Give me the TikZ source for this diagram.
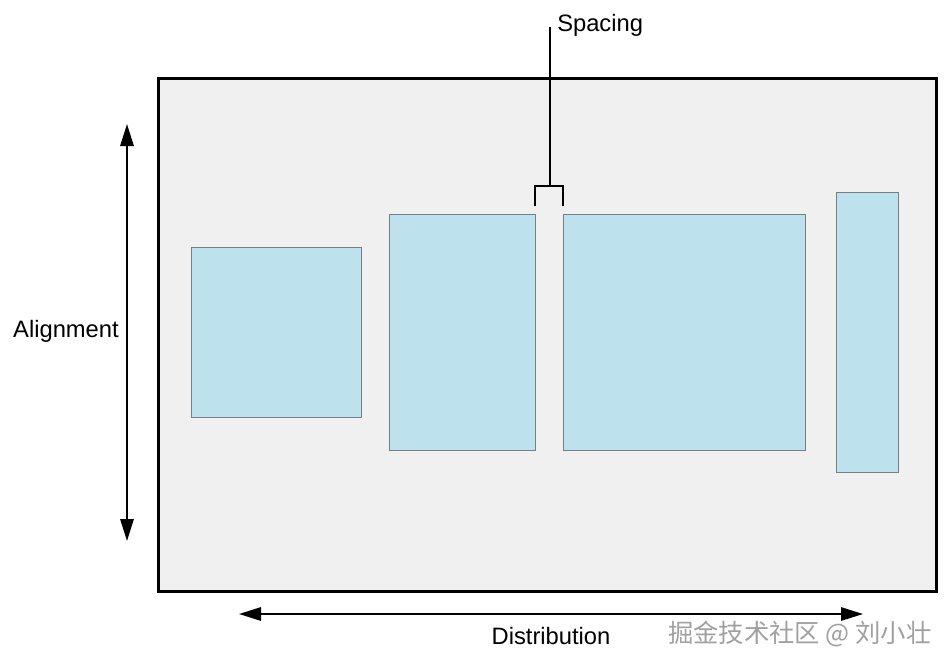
\documentclass[tikz,border=0pt]{standalone}
\usepackage{fontspec}
\setmainfont{Liberation Sans}
\newfontfamily\cjk{Noto Sans CJK SC}
\usetikzlibrary{arrows.meta}
\definecolor{panelgray}{HTML}{F0F0F0}
\definecolor{boxblue}{HTML}{BDE2EE}
\definecolor{boxedge}{HTML}{787F82}
\definecolor{wmgray}{HTML}{A0A0A0}
\tikzset{
  panel/.style={draw=black, line width=2.25pt, fill=panelgray, inner sep=0pt, anchor=north west},
  bluebox/.style={draw=boxedge, line width=1.1pt, fill=boxblue, inner sep=0pt, anchor=north west},
  dimarrow/.style={line width=1.5pt, {Triangle[length=16.5pt,width=10pt]}-{Triangle[length=16.5pt,width=10pt]}},
  bracket/.style={line width=1.5pt},
  lbl/.style={font=\fontsize{17.8}{20}\selectfont, inner sep=0pt},
}
\begin{document}
\begin{tikzpicture}[x=0.75pt, y=-0.75pt]
\useasboundingbox (0,0) rectangle (948,668);
\node[panel, minimum width=583.5pt, minimum height=384.75pt] (panel) at (157,77) {};
\node[bluebox, minimum width=127.5pt, minimum height=127.5pt] (b1) at (191,247) {};
\node[bluebox, minimum width=109.5pt, minimum height=177pt] (b2) at (389,214) {};
\node[bluebox, minimum width=181.5pt, minimum height=177pt] (b3) at (563,214) {};
\node[bluebox, minimum width=46.5pt, minimum height=210pt] (b4) at (836,192) {};
% spacing bracket
\coordinate (sptop) at (550,27);
\coordinate (spmid) at (550,186);
\coordinate (spl) at (535,186);
\coordinate (spr) at (563,186);
\coordinate (spld) at (535,206);
\coordinate (sprd) at (563,206);
\draw[bracket] (sptop) -- (spmid);
\draw[bracket] (spld) -- (spl) -- (spr) -- (sprd);
\node[lbl, anchor=west] (spacing) at (557,25) {Spacing};
% alignment
\coordinate (atop) at (127,124);
\coordinate (abot) at (127,541);
\draw[dimarrow] (atop) -- (abot);
\node[lbl, anchor=east] (alignment) at (119,331) {Alignment};
% distribution
\coordinate (dleft) at (239,614);
\coordinate (dright) at (863,614);
\draw[dimarrow] (dleft) -- (dright);
\node[lbl] (distribution) at (551,636) {Distribution};
% watermark
\node[inner sep=0pt, anchor=west, text=wmgray, font=\cjk\fontsize{19}{20}\selectfont] (wm) at (668,634) {掘金技术社区 @ 刘小壮};
\end{tikzpicture}
\end{document}
